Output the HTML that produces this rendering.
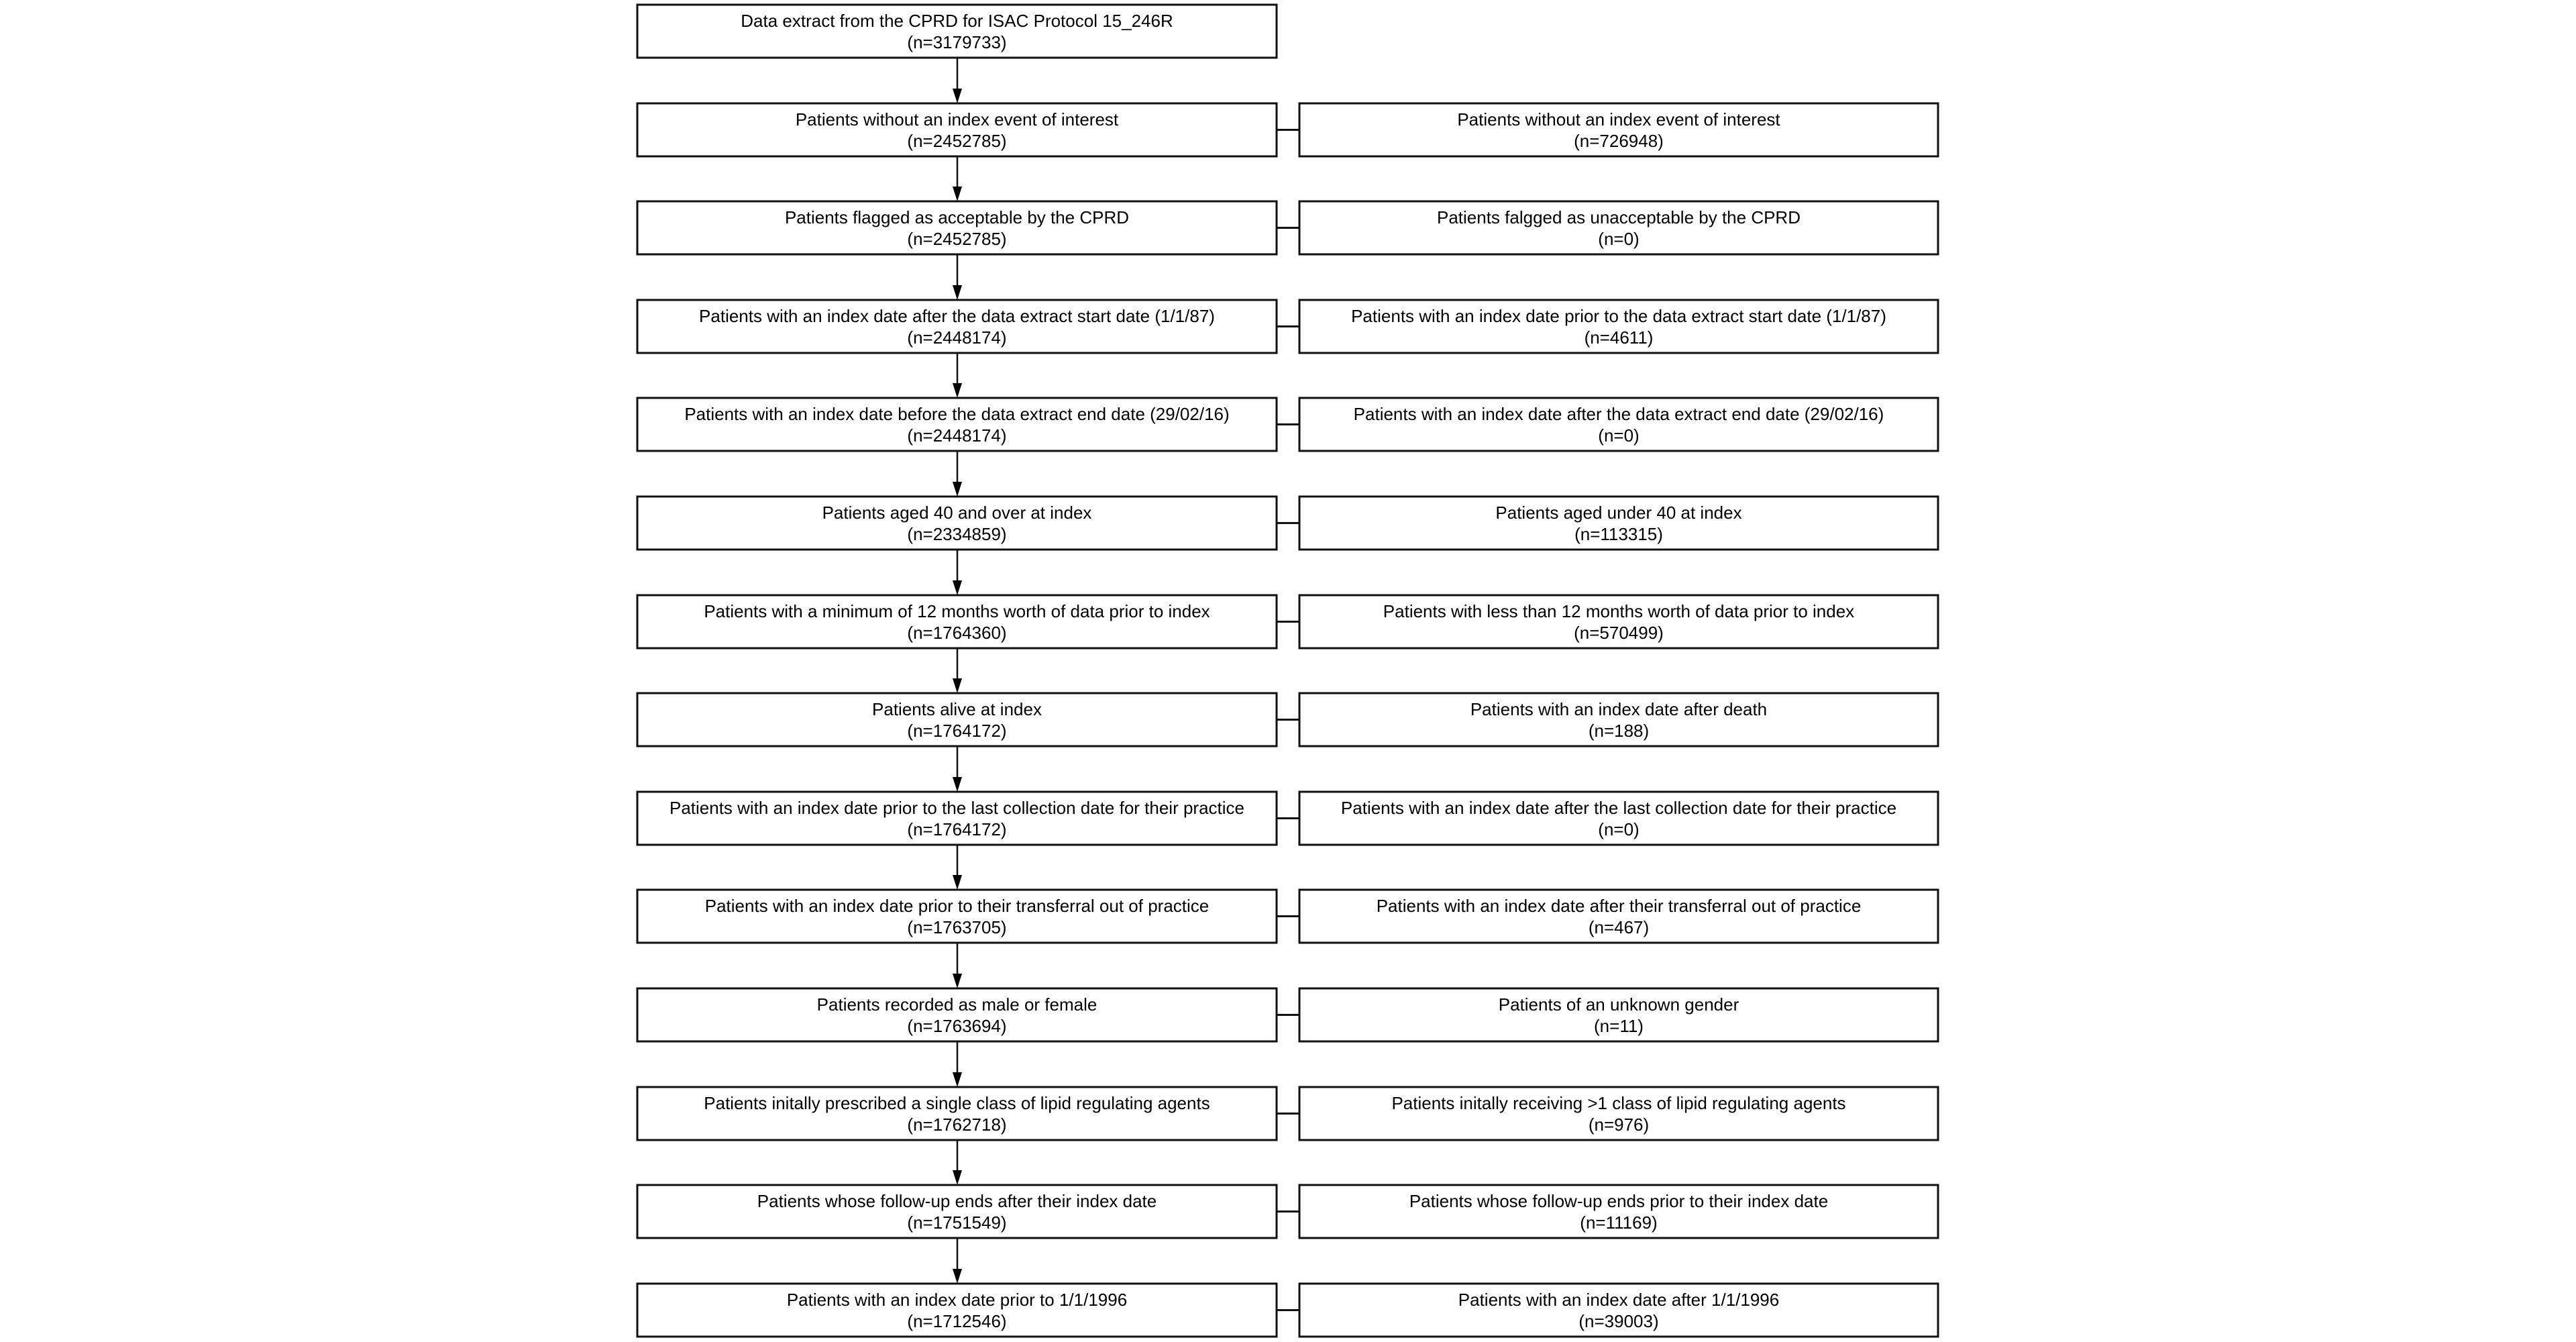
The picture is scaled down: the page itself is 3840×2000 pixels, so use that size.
<!DOCTYPE html>
<html><head><meta charset="utf-8"><style>html,body{margin:0;padding:0;background:#fff}svg{display:block}</style></head>
<body>
<svg xmlns="http://www.w3.org/2000/svg" width="3840" height="2000" viewBox="0 0 3840 2000" font-family="'Liberation Sans', Arial, sans-serif" font-size="26" fill="#000">
<defs>
<symbol id="L"><rect x="1.5" y="1.5" width="953" height="79" fill="#fff" stroke="#111" stroke-width="3"/></symbol>
<path id="ah" d="M-7,-22 L7,-22 L0,0 Z" fill="#000"/>
</defs>
<g stroke="#111" stroke-width="3" fill="#fff">
<rect x="950" y="7" width="953" height="79"/>
<rect x="950" y="154" width="953" height="79"/><rect x="1937" y="154" width="952" height="79"/>
<rect x="950" y="300" width="953" height="79"/><rect x="1937" y="300" width="952" height="79"/>
<rect x="950" y="447" width="953" height="79"/><rect x="1937" y="447" width="952" height="79"/>
<rect x="950" y="593" width="953" height="79"/><rect x="1937" y="593" width="952" height="79"/>
<rect x="950" y="740" width="953" height="79"/><rect x="1937" y="740" width="952" height="79"/>
<rect x="950" y="887" width="953" height="79"/><rect x="1937" y="887" width="952" height="79"/>
<rect x="950" y="1033" width="953" height="79"/><rect x="1937" y="1033" width="952" height="79"/>
<rect x="950" y="1180" width="953" height="79"/><rect x="1937" y="1180" width="952" height="79"/>
<rect x="950" y="1326" width="953" height="79"/><rect x="1937" y="1326" width="952" height="79"/>
<rect x="950" y="1473" width="953" height="79"/><rect x="1937" y="1473" width="952" height="79"/>
<rect x="950" y="1620" width="953" height="79"/><rect x="1937" y="1620" width="952" height="79"/>
<rect x="950" y="1766" width="953" height="79"/><rect x="1937" y="1766" width="952" height="79"/>
<rect x="950" y="1913" width="953" height="79"/><rect x="1937" y="1913" width="952" height="79"/>
</g>
<g stroke="#111" stroke-width="3">
<line x1="1903" y1="193.5" x2="1937" y2="193.5"/>
<line x1="1903" y1="339.5" x2="1937" y2="339.5"/>
<line x1="1903" y1="486.5" x2="1937" y2="486.5"/>
<line x1="1903" y1="632.5" x2="1937" y2="632.5"/>
<line x1="1903" y1="779.5" x2="1937" y2="779.5"/>
<line x1="1903" y1="926.5" x2="1937" y2="926.5"/>
<line x1="1903" y1="1072.5" x2="1937" y2="1072.5"/>
<line x1="1903" y1="1219.5" x2="1937" y2="1219.5"/>
<line x1="1903" y1="1365.5" x2="1937" y2="1365.5"/>
<line x1="1903" y1="1512.5" x2="1937" y2="1512.5"/>
<line x1="1903" y1="1659.5" x2="1937" y2="1659.5"/>
<line x1="1903" y1="1805.5" x2="1937" y2="1805.5"/>
<line x1="1903" y1="1952.5" x2="1937" y2="1952.5"/>
</g>
<g stroke="#111" stroke-width="2.5">
<line x1="1427" y1="87" x2="1427" y2="140"/>
<line x1="1427" y1="234" x2="1427" y2="286"/>
<line x1="1427" y1="380" x2="1427" y2="433"/>
<line x1="1427" y1="527" x2="1427" y2="579"/>
<line x1="1427" y1="673" x2="1427" y2="726"/>
<line x1="1427" y1="820" x2="1427" y2="873"/>
<line x1="1427" y1="967" x2="1427" y2="1019"/>
<line x1="1427" y1="1113" x2="1427" y2="1166"/>
<line x1="1427" y1="1260" x2="1427" y2="1312"/>
<line x1="1427" y1="1406" x2="1427" y2="1459"/>
<line x1="1427" y1="1553" x2="1427" y2="1606"/>
<line x1="1427" y1="1700" x2="1427" y2="1752"/>
<line x1="1427" y1="1846" x2="1427" y2="1899"/>
</g>
<g fill="#000">
<path d="M1420,132 L1434,132 L1427,154 Z"/>
<path d="M1420,278 L1434,278 L1427,300 Z"/>
<path d="M1420,425 L1434,425 L1427,447 Z"/>
<path d="M1420,571 L1434,571 L1427,593 Z"/>
<path d="M1420,718 L1434,718 L1427,740 Z"/>
<path d="M1420,865 L1434,865 L1427,887 Z"/>
<path d="M1420,1011 L1434,1011 L1427,1033 Z"/>
<path d="M1420,1158 L1434,1158 L1427,1180 Z"/>
<path d="M1420,1304 L1434,1304 L1427,1326 Z"/>
<path d="M1420,1451 L1434,1451 L1427,1473 Z"/>
<path d="M1420,1598 L1434,1598 L1427,1620 Z"/>
<path d="M1420,1744 L1434,1744 L1427,1766 Z"/>
<path d="M1420,1891 L1434,1891 L1427,1913 Z"/>
</g>
<g text-anchor="middle">
<text x="1426.5" y="40">Data extract from the CPRD for ISAC Protocol 15_246R</text><text x="1426.5" y="72">(n=3179733)</text>
<text x="1426.5" y="187">Patients without an index event of interest</text><text x="1426.5" y="219">(n=2452785)</text>
<text x="2413" y="187">Patients without an index event of interest</text><text x="2413" y="219">(n=726948)</text>
<text x="1426.5" y="333">Patients flagged as acceptable by the CPRD</text><text x="1426.5" y="365">(n=2452785)</text>
<text x="2413" y="333">Patients falgged as unacceptable by the CPRD</text><text x="2413" y="365">(n=0)</text>
<text x="1426.5" y="480">Patients with an index date after the data extract start date (1/1/87)</text><text x="1426.5" y="512">(n=2448174)</text>
<text x="2413" y="480">Patients with an index date prior to the data extract start date (1/1/87)</text><text x="2413" y="512">(n=4611)</text>
<text x="1426.5" y="626">Patients with an index date before the data extract end date (29/02/16)</text><text x="1426.5" y="658">(n=2448174)</text>
<text x="2413" y="626">Patients with an index date after the data extract end date (29/02/16)</text><text x="2413" y="658">(n=0)</text>
<text x="1426.5" y="773">Patients aged 40 and over at index</text><text x="1426.5" y="805">(n=2334859)</text>
<text x="2413" y="773">Patients aged under 40 at index</text><text x="2413" y="805">(n=113315)</text>
<text x="1426.5" y="920">Patients with a minimum of 12 months worth of data prior to index</text><text x="1426.5" y="952">(n=1764360)</text>
<text x="2413" y="920">Patients with less than 12 months worth of data prior to index</text><text x="2413" y="952">(n=570499)</text>
<text x="1426.5" y="1066">Patients alive at index</text><text x="1426.5" y="1098">(n=1764172)</text>
<text x="2413" y="1066">Patients with an index date after death</text><text x="2413" y="1098">(n=188)</text>
<text x="1426.5" y="1213">Patients with an index date prior to the last collection date for their practice</text><text x="1426.5" y="1245">(n=1764172)</text>
<text x="2413" y="1213">Patients with an index date after the last collection date for their practice</text><text x="2413" y="1245">(n=0)</text>
<text x="1426.5" y="1359">Patients with an index date prior to their transferral out of practice</text><text x="1426.5" y="1391">(n=1763705)</text>
<text x="2413" y="1359">Patients with an index date after their transferral out of practice</text><text x="2413" y="1391">(n=467)</text>
<text x="1426.5" y="1506">Patients recorded as male or female</text><text x="1426.5" y="1538">(n=1763694)</text>
<text x="2413" y="1506">Patients of an unknown gender</text><text x="2413" y="1538">(n=11)</text>
<text x="1426.5" y="1653">Patients initally prescribed a single class of lipid regulating agents</text><text x="1426.5" y="1685">(n=1762718)</text>
<text x="2413" y="1653">Patients initally receiving &gt;1 class of lipid regulating agents</text><text x="2413" y="1685">(n=976)</text>
<text x="1426.5" y="1799">Patients whose follow-up ends after their index date</text><text x="1426.5" y="1831">(n=1751549)</text>
<text x="2413" y="1799">Patients whose follow-up ends prior to their index date</text><text x="2413" y="1831">(n=11169)</text>
<text x="1426.5" y="1946">Patients with an index date prior to 1/1/1996</text><text x="1426.5" y="1978">(n=1712546)</text>
<text x="2413" y="1946">Patients with an index date after 1/1/1996</text><text x="2413" y="1978">(n=39003)</text>
</g>
</svg>
</body></html>
